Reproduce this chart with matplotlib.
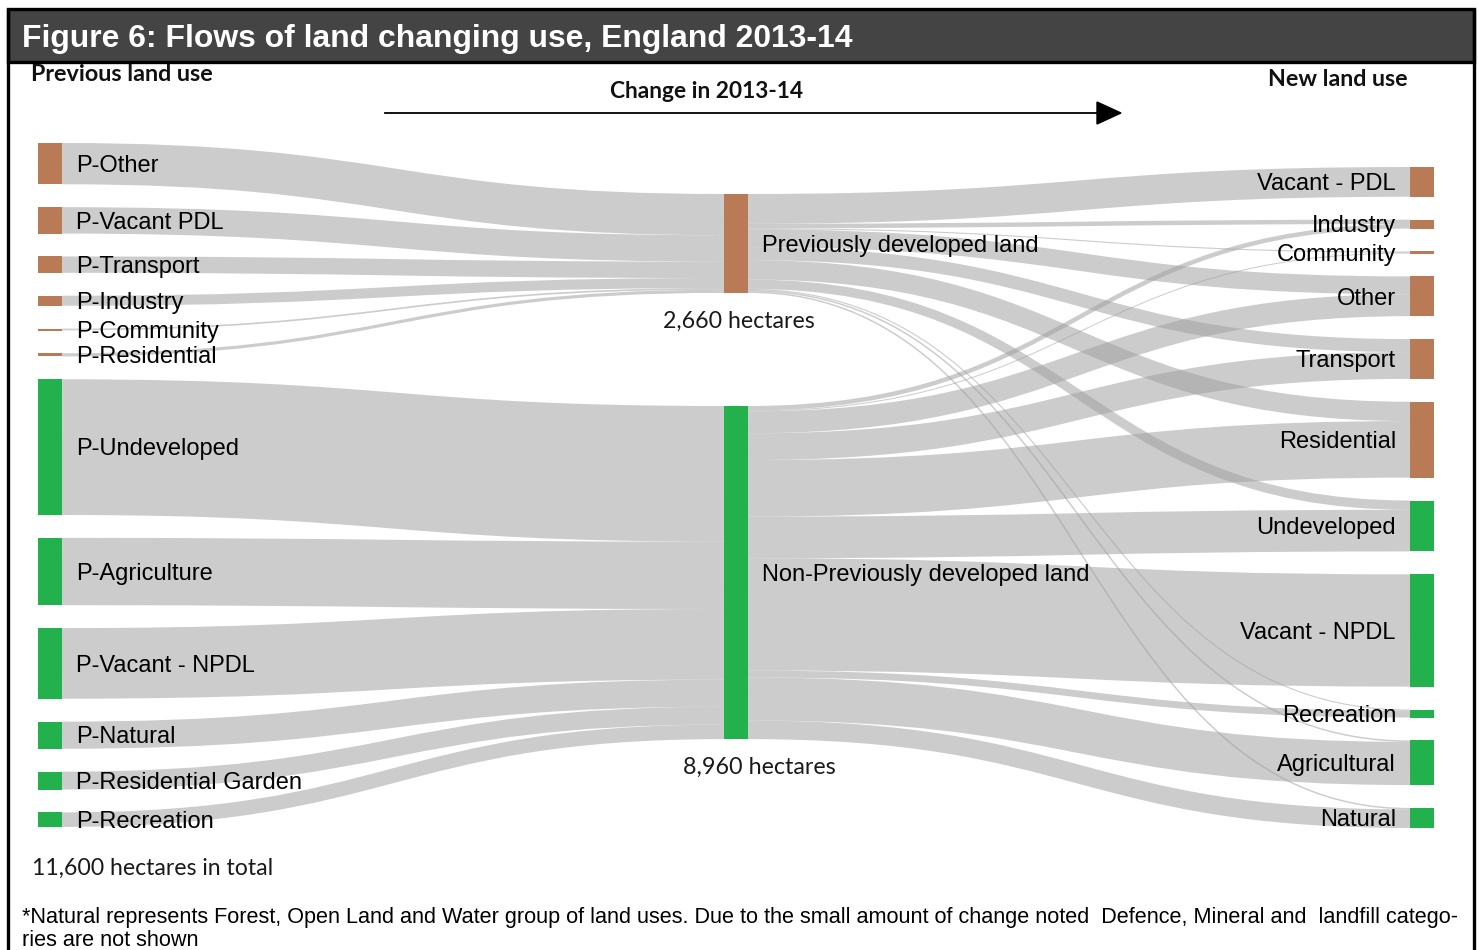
import matplotlib
matplotlib.use('Agg')
import matplotlib.pyplot as plt
from matplotlib.path import Path
from matplotlib.patches import PathPatch, Rectangle, Polygon

# ---------------- data ----------------
left_labels = ['P-Other', 'P-Vacant PDL', 'P-Transport', 'P-Industry', 'P-Community',
               'P-Residential', 'P-Undeveloped', 'P-Agriculture', 'P-Vacant - NPDL',
               'P-Natural', 'P-Residential Garden', 'P-Recreation']
left_values = [1110, 710, 440, 270, 45, 85, 3650, 1810, 1900, 730, 480, 390]
left_group = [0, 0, 0, 0, 0, 0, 1, 1, 1, 1, 1, 1]   # 0 = PDL, 1 = NPDL

mid_labels = ['Previously developed land', 'Non-Previously developed land']
mid_totals_text = ['2,660 hectares', '8,960 hectares']

right_labels = ['Vacant - PDL', 'Industry', 'Community', 'Other', 'Transport', 'Residential',
                'Undeveloped', 'Vacant - NPDL', 'Recreation', 'Agricultural', 'Natural']
right_group = [0, 0, 0, 0, 0, 0, 1, 1, 1, 1, 1]
pdl_to_right = [800, 120, 30, 480, 350, 520, 250, 0, 30, 40, 40]
npdl_to_right = [0, 120, 25, 590, 720, 1520, 1120, 3020, 185, 1160, 500]

title = 'Figure 6: Flows of land changing use, England 2013-14'
total_text = '11,600 hectares in total'
footnote1 = ('*Natural represents Forest, Open Land and Water group of land uses. Due to the small '
             'amount of change noted  Defence, Mineral and  landfill catego-')
footnote2 = 'ries are not shown'

# ---------------- style / layout ----------------
W, H, DPI = 1479, 950, 100
BROWN = '#b97a56'
GREEN = '#22b14c'
LINK_C = (159 / 255, 159 / 255, 159 / 255)
LINK_A = 0.53
col_x = [38, 724, 1410]
node_w = 24
PX_PER_HA = 432 / 11620.0
left_top, left_gap = 143, 22.9
right_top, right_gap = 167, 22.9
mid_tops = [194, 406]
SANS = 'Liberation Sans'
CAL = 'Lato'

fig = plt.figure(figsize=(W / DPI, H / DPI), dpi=DPI)
ax = fig.add_axes([0, 0, 1, 1])
ax.set_xlim(0, W)
ax.set_ylim(H, 0)
ax.axis('off')
renderer = fig.canvas.get_renderer()

# ---------------- node geometry ----------------
mid_values = [sum(v for v, g in zip(left_values, left_group) if g == m) for m in (0, 1)]
right_values = [a + b for a, b in zip(pdl_to_right, npdl_to_right)]


def stack(values, top, gap):
    tops, y = [], top
    for v in values:
        tops.append(y)
        y += v * PX_PER_HA + gap
    return tops


cols_vals = [left_values, mid_values, right_values]
cols_tops = [stack(left_values, left_top, left_gap), list(mid_tops),
             stack(right_values, right_top, right_gap)]

# links (src_col, src_idx, tgt_col, tgt_idx, value)
links = []
for i, (v, g) in enumerate(zip(left_values, left_group)):
    links.append((0, i, 1, g, v))
for j in range(len(right_labels)):
    if pdl_to_right[j] > 0:
        links.append((1, 0, 2, j, pdl_to_right[j]))
    if npdl_to_right[j] > 0:
        links.append((1, 1, 2, j, npdl_to_right[j]))

out_off = {}
in_off = {}
geo = []
# outgoing ordered by target position, incoming by source position
for L in sorted(links, key=lambda l: (l[0], l[1], cols_tops[l[2]][l[3]])):
    out_off.setdefault((L[0], L[1]), 0.0)
    geo_y0 = cols_tops[L[0]][L[1]] + out_off[(L[0], L[1])]
    out_off[(L[0], L[1])] += L[4] * PX_PER_HA
    geo.append((L, geo_y0))
final = []
for L, y0 in sorted(geo, key=lambda g: (g[0][2], g[0][3], cols_tops[g[0][0]][g[0][1]])):
    in_off.setdefault((L[2], L[3]), 0.0)
    y1 = cols_tops[L[2]][L[3]] + in_off[(L[2], L[3])]
    in_off[(L[2], L[3])] += L[4] * PX_PER_HA
    final.append((L, y0, y1))

# ---------------- draw links ----------------
for L, y0, y1 in final:
    w = L[4] * PX_PER_HA
    x0 = col_x[L[0]] + node_w
    x1 = col_x[L[2]]
    ya, yb = y0 + w / 2, y1 + w / 2
    xm = (x0 + x1) / 2
    p = Path([(x0, ya), (xm, ya), (xm, yb), (x1, yb)],
             [Path.MOVETO, Path.CURVE4, Path.CURVE4, Path.CURVE4])
    ax.add_patch(PathPatch(p, fill=False, edgecolor=LINK_C, alpha=LINK_A,
                           lw=max(1.0, w) * 72 / DPI, capstyle='butt', zorder=1))

# ---------------- draw nodes ----------------
groups = [left_group, [0, 1], right_group]
for c in range(3):
    for v, t, g in zip(cols_vals[c], cols_tops[c], groups[c]):
        h = max(v * PX_PER_HA, 2.2)
        ax.add_patch(Rectangle((col_x[c], t), node_w, h, facecolor=BROWN if g == 0 else GREEN,
                               edgecolor='none', zorder=3))


# ---------------- text ----------------
def fit(x, y, s, width, ha='left', **kw):
    t = ax.text(x, y, s, fontsize=10, ha=ha, va='baseline', zorder=5, **kw)
    bb = t.get_window_extent(renderer)
    t.set_fontsize(10 * width / bb.width)
    return t


probe = fit(0, -100, 'P-Residential Garden', 227, family=SANS)
LAB_FS = probe.get_fontsize()
probe.remove()
fs_px = LAB_FS * DPI / 72.0

for lab, v, t in zip(left_labels, left_values, cols_tops[0]):
    yc = t + v * PX_PER_HA / 2
    ax.text(col_x[0] + node_w + 14, yc + 0.35 * fs_px, lab, fontsize=LAB_FS, family=SANS,
            ha='left', va='baseline', zorder=5)
for lab, v, t in zip(mid_labels, mid_values, cols_tops[1]):
    yc = t + v * PX_PER_HA / 2
    ax.text(col_x[1] + node_w + 14, yc + 0.35 * fs_px, lab, fontsize=LAB_FS, family=SANS,
            ha='left', va='baseline', zorder=5)
for lab, v, t in zip(right_labels, right_values, cols_tops[2]):
    yc = t + v * PX_PER_HA / 2
    ax.text(col_x[2] - 14, yc + 0.35 * fs_px, lab, fontsize=LAB_FS, family=SANS,
            ha='right', va='baseline', zorder=5)

# title bar and frame
ax.add_patch(Rectangle((8, 9), 1466, 53, facecolor='#444444', edgecolor='black', lw=2.4, zorder=4))
ax.plot([8, 8], [9, 960], color='black', lw=2.4, zorder=4, solid_capstyle='butt')
ax.plot([1474, 1474], [9, 960], color='black', lw=2.4, zorder=4, solid_capstyle='butt')
fit(22, 47, title, 834, color='white', weight='bold', family=SANS)

fit(31, 81, 'Previous land use', 183, weight='bold', family=CAL, color='#111111')
fit(707, 98, 'Change in 2013-14', 194, ha='center', weight='bold', family=CAL, color='#111111')
fit(1268, 86, 'New land use', 141, weight='bold', family=CAL, color='#111111')

ax.plot([385, 1100], [113, 113], color='black', lw=1.3, zorder=4)
ax.add_patch(Polygon([(1097, 102), (1121, 113), (1097, 124)], closed=True,
                     facecolor='black', edgecolor='black', zorder=4))

fit(739, 328, mid_totals_text[0], 152, ha='center', family=CAL, color='#1a1a1a')
fit(759, 774, mid_totals_text[1], 152, ha='center', family=CAL, color='#1a1a1a')
fit(32, 875, total_text, 241, family=CAL, color='#1a1a1a')

fn = fit(22, 923, footnote1, 1440, family=SANS, color='black')
ax.text(22, 946, footnote2, fontsize=fn.get_fontsize(), family=SANS, ha='left', va='baseline',
        color='black', zorder=5)

fig.savefig('out.png', dpi=DPI, facecolor='white')
